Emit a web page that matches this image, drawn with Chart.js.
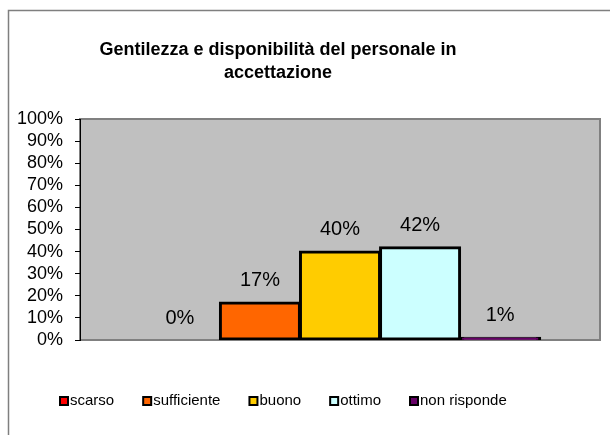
<!DOCTYPE html>
<html>
<head>
<meta charset="utf-8">
<script src="https://cdn.jsdelivr.net/npm/chart.js@4/dist/chart.umd.min.js"></script>
<style>
html, body { margin: 0; padding: 0; background: #fff; }
#wrap { width: 610px; height: 435px; }
</style>
</head>
<body>
<div id="wrap"><canvas id="mycanvas" width="610" height="435"></canvas></div>
<script>
var titleLines = ['Gentilezza e disponibilità del personale in', 'accettazione'];
var categories = ['scarso', 'sufficiente', 'buono', 'ottimo', 'non risponde'];
var values = [0, 17, 40, 42, 1];
var colors = ['#FF0000', '#FF6600', '#FFCC00', '#CCFFFF', '#660066'];
var yMax = 100;
var yStep = 10;

var FONT = "'Liberation Sans', Arial, sans-serif";

var datasets = [];
for (var i = 0; i < categories.length; i++) {
	datasets.push({
		label: categories[i],
		data: [values[i]],
		backgroundColor: colors[i],
		borderColor: '#000',
		borderWidth: 3,
		borderSkipped: false,
		// excel strokes the outline on the edge, so grow the bar a bit (not the empty one)
		inflateAmount: values[i] > 0 ? 1 : 0,
		categoryPercentage: 0.77,
		barPercentage: 1
	});
}

// excel style: grey plot area, frame, title, value labels, legend
var excelLook = {
	id: 'excelLook',
	beforeDraw: function(chart) {
		var c = chart.ctx, a = chart.chartArea;
		c.save();
		c.fillStyle = '#fff';
		c.fillRect(0, 0, chart.width, chart.height);
		c.strokeStyle = '#7f7f7f';
		c.lineWidth = 1.5;
		c.strokeRect(8.5, 10.5, chart.width + 40, chart.height + 40);
		c.fillStyle = '#C0C0C0';
		c.fillRect(a.left, a.top, a.right - a.left, a.bottom - a.top);
		c.strokeStyle = '#808080';
		c.lineWidth = 2;
		c.strokeRect(a.left, a.top, a.right - a.left, a.bottom - a.top);

		c.fillStyle = '#000';
		c.font = 'bold 18px ' + FONT;
		c.textAlign = 'center';
		c.textBaseline = 'middle';
		for (var k = 0; k < titleLines.length; k++) {
			c.fillText(titleLines[k], 278, 50 + k * 23);
		}
		c.restore();
	},
	afterDatasetsDraw: function(chart) {
		var c = chart.ctx;
		c.save();
		c.fillStyle = '#000';
		c.font = '20px ' + FONT;
		c.textAlign = 'center';
		c.textBaseline = 'middle';
		chart.data.datasets.forEach(function(ds, i) {
			var el = chart.getDatasetMeta(i).data[0];
			c.fillText(ds.data[0] + '%', el.x, el.y - 22);
		});
		c.restore();
	},
	afterDraw: function(chart) {
		var c = chart.ctx;
		var x = 59, y = 401;
		c.save();
		c.font = '15px ' + FONT;
		c.textBaseline = 'middle';
		c.textAlign = 'left';
		chart.data.datasets.forEach(function(ds) {
			c.fillStyle = ds.backgroundColor;
			c.fillRect(x + 1, y - 4, 8, 8);
			c.strokeStyle = '#000';
			c.lineWidth = 2;
			c.strokeRect(x + 1, y - 4, 8, 8);
			c.fillStyle = '#000';
			c.fillText(ds.label, x + 11, y);
			x += 11 + c.measureText(ds.label).width + 28;
		});
		c.restore();
	}
};

var ctx = document.getElementById('mycanvas');
var barGraph = new Chart(ctx, {
	type: 'bar',
	data: { labels: [''], datasets: datasets },
	options: {
		responsive: false,
		animation: false,
		devicePixelRatio: 1,
		layout: { padding: { top: 119, right: 10, bottom: 95, left: 0 } },
		plugins: {
			legend: { display: false },
			title: { display: false },
			tooltip: { enabled: false }
		},
		scales: {
			x: { display: false },
			y: {
				min: 0,
				max: yMax,
				ticks: {
					stepSize: yStep,
					autoSkip: false,
					color: '#000',
					padding: 12,
					font: { size: 18, family: FONT },
					callback: function(v) { return v + '%'; }
				},
				grid: { drawOnChartArea: false, tickLength: 5, color: '#000' },
				border: { color: '#000', width: 1 },
				afterFit: function(s) { s.width = 80; }
			}
		}
	},
	plugins: [excelLook]
});
</script>
</body>
</html>
